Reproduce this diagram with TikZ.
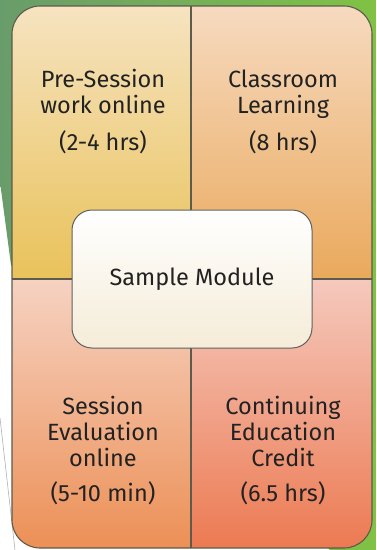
\documentclass[tikz,border=0pt]{standalone}
\usepackage{fontspec}
\setmainfont{Fira Sans}
\definecolor{greenL}{HTML}{699C6B}
\definecolor{greenR}{HTML}{80C244}
\definecolor{tlTop}{HTML}{F6E3C0}
\definecolor{tlBot}{HTML}{E9C25A}
\definecolor{trTop}{HTML}{F6DAC0}
\definecolor{trBot}{HTML}{EAA95C}
\definecolor{blTop}{HTML}{F6D2C2}
\definecolor{blBot}{HTML}{EC9056}
\definecolor{brTop}{HTML}{F5C9BD}
\definecolor{brBot}{HTML}{EC7A52}
\definecolor{cTop}{HTML}{FFFFFF}
\definecolor{cBot}{HTML}{F5ECD8}
\definecolor{edge}{HTML}{5E5A4C}
\definecolor{txt}{HTML}{222222}
\tikzset{
  lbl/.style={align=center, text=txt, font=\fontsize{23.5}{26}\selectfont, inner sep=0pt},
  quadedge/.style={draw=edge, line width=1.1pt},
}
\begin{document}
\begin{tikzpicture}[x=1pt,y=-1pt]
\useasboundingbox (0,0) rectangle (376,550);
\fill[white] (0,0) rectangle (376,550);
% green background arrow
\shade[left color=greenL, right color=greenR]
  (0,0) -- (376,0) -- (376,550) -- (330,550) -- (11,265) -- (0,182) -- cycle;
% thin grey line bottom left
\draw[gray!60, line width=0.6pt] (0,418) -- (15,550);
% quadrants
\begin{scope}
  \clip[rounded corners=28pt] (12,6) rectangle (372,548);
  \shade[top color=tlTop, bottom color=tlBot] (12,6) rectangle (191,279);
  \shade[top color=trTop, bottom color=trBot] (191,6) rectangle (372,279);
  \shade[top color=blTop, bottom color=blBot] (12,279) rectangle (191,548);
  \shade[top color=brTop, bottom color=brBot] (191,279) rectangle (372,548);
\end{scope}
\draw[quadedge, rounded corners=28pt] (12,6) rectangle (372,548);
\draw[quadedge] (191,6) -- (191,548);
\draw[quadedge] (12,279) -- (372,279);
% center
\shade[top color=cTop, bottom color=cBot, rounded corners=20pt]
  (72,210) rectangle (312,348);
\draw[draw=gray!75!black, line width=1pt, rounded corners=20pt]
  (72,210) rectangle (312,348);
\node[lbl] (center) at (192,279) {Sample Module};
% texts
\node[lbl, anchor=base] (pre1) at (103,113) {Pre-Session\\work online};
\node[lbl, anchor=base] (pre2) at (103,150) {(2-4 hrs)};
\node[lbl, anchor=base] (cls1) at (283,113) {Classroom\\Learning};
\node[lbl, anchor=base] (cls2) at (283,150) {(8 hrs)};
\node[lbl, anchor=base] (ses1) at (103,466) {Session\\Evaluation\\online};
\node[lbl, anchor=base] (ses2) at (103,501) {(5-10 min)};
\node[lbl, anchor=base] (ced1) at (283,466) {Continuing\\Education\\Credit};
\node[lbl, anchor=base] (ced2) at (283,501) {(6.5 hrs)};
\end{tikzpicture}
\end{document}
